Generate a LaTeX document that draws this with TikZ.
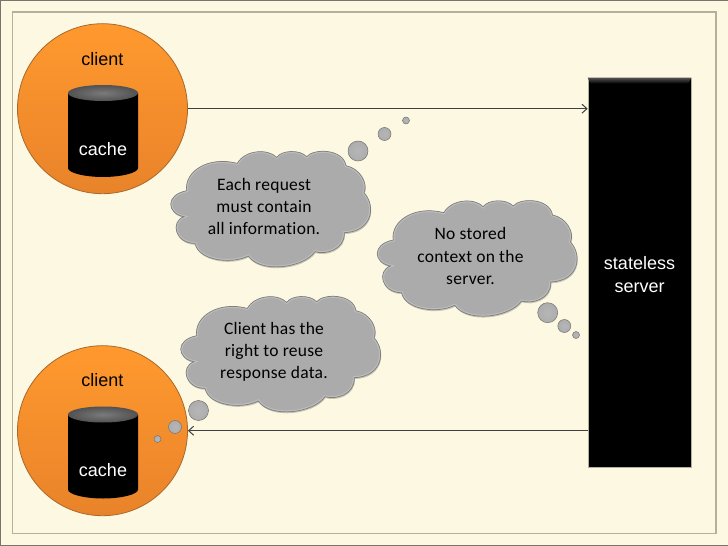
\documentclass[tikz,border=0pt]{standalone}
\usepackage{fontspec}
\setmainfont{Liberation Sans}
\newfontfamily\cloudfont[LetterSpace=1.5, Ligatures=NoCommon]{Carlito}
\usetikzlibrary{arrows.meta, shadows, calc}
\definecolor{paper}{HTML}{FDF8E1}
\definecolor{frameline}{HTML}{B3B19C}
\definecolor{outerline}{HTML}{77766A}
\definecolor{ballrim}{HTML}{A9682B}
\definecolor{ballup}{HTML}{FF992E}
\definecolor{balldown}{HTML}{E9832A}
\definecolor{cloudfill}{HTML}{ABABAB}
\definecolor{cloudedge}{HTML}{7E7E7E}
\definecolor{cloudglow}{HTML}{BDBDBD}
\definecolor{bubblecore}{HTML}{B6B6B6}
\pgfdeclareradialshading{bubbleshade}{\pgfpoint{0bp}{0bp}}{%
	color(0bp)=(bubblecore); color(30bp)=(cloudfill); color(40bp)=(cloudfill); color(50bp)=(cloudedge)}
\tikzset{link/.style = {-{Straight Barb[length=5bp,width=9bp]}, line width=1bp, draw=black!75}}
\tikzset{ball/.style = {
	circle, minimum size=170bp, inner sep=0pt,
	top color=ballup, bottom color=balldown,
	draw=ballrim, line width=0.8bp
	}}
\tikzset{serverbox/.style = {
	rectangle, minimum width=103bp, minimum height=389bp, inner sep=0pt,
	fill=black, draw=frameline, line width=0.6bp,
	drop shadow={shadow xshift=1bp, shadow yshift=-1.2bp, opacity=0.6, fill=black}
	}}
\tikzset{bubble/.style = {
	circle, minimum size=#1, inner sep=0pt,
	shading=bubbleshade, draw=black!55, line width=0.5bp
	}}
\tikzset{darktext/.style = {font=\fontsize{18bp}{23bp}\selectfont, text=black, align=center}}
\tikzset{lighttext/.style = {font=\fontsize{18bp}{23bp}\selectfont, text=white, align=center}}
\tikzset{cloudtext/.style = {font=\cloudfont\fontsize{17.5bp}{22.2bp}\selectfont, text=black, align=center}}
\newcommand{\cloudoutline}{(15.7,40) .. controls (13,21) and (37,5) .. (66.3,12.7)
	.. controls (74,-1) and (97,-2.3) .. (105.7,6.7)
	.. controls (110.7,-0.7) and (129,-1.3) .. (135.7,6)
	.. controls (142.3,-2.3) and (172,-2.3) .. (175,15)
	.. controls (189,17.7) and (197.3,32.7) .. (193,42)
	.. controls (205.7,56) and (200.7,81) .. (173.3,82)
	.. controls (174,99.3) and (154,104.3) .. (144,101)
	.. controls (132.3,117.7) and (89,122.7) .. (77.3,105.3)
	.. controls (59,114.3) and (27.3,109.3) .. (24,92.7)
	.. controls (4,92.7) and (-1,71) .. (13,66)
	.. controls (-4.3,62.7) and (-6,44.3) .. (15.7,40) -- cycle}

\begin{document}
\begin{tikzpicture}[x=1bp, y=-1bp]

	% Slide background
	\useasboundingbox (0,0) rectangle (728,546);
	\fill [paper] (0,0) rectangle (728,546);
	\draw [outerline, line width=1.2bp] (0.6,546) -- (0.6,0.6) -- (728,0.6);
	\draw [outerline, line width=1.2bp] (0,545.4) -- (728,545.4);
	\draw [frameline, line width=1.5bp] (12.5,12.2) rectangle (716,533.5);

	% Clients
	\foreach \name/\c/\y in {clienta/108.7/108, clientb/430.7/429.5}
	{
		\node [ball] (\name) at (102.5,\c) {};
		\fill [black] (68,\y-15) -- (68,\y+60) .. controls (68,\y+65) and (85,\y+69) .. (103,\y+69)
			.. controls (121,\y+69) and (138,\y+65) .. (138,\y+60) -- (138,\y-15) -- cycle;
		\shade [inner color=black!52, outer color=black!68] (103,\y-15) ellipse [x radius=35, y radius=8];
		\node [darktext] (\name label) at (102.5,\y-49) {client};
		\node [lighttext] (\name cache) at (103,\y+41) {cache};
	}

	% Server
	\node [serverbox] (server) at (639.5,272.5) {};
	\shade [top color=black!68, bottom color=black] (server.north west) -- (server.north east) -- ++(-3,6) -- ($(server.north west)+(3,6)$) -- cycle;
	\node [lighttext] (serverlabel) at (639.5,274.5) {stateless\\server};

	% Requests and responses
	\draw [link] (clienta.east) -- (clienta.east -| server.west);
	\draw [link] (clientb.east -| server.west) -- (clientb.east);

	% Thought clouds
	\foreach \name/\x/\y/\words in {%
		request/171/150.7/{Each request\\must contain\\all information.},
		context/377.5/200/{No stored\\context on the\\server.},
		reuse/181/295.7/{Client has the\\right to reuse\\response data.}}
	{
		\begin{scope}[shift={(\x,\y)}]
		\fill [black, opacity=0.2] [shift={(0.6,1.4)}] \cloudoutline;
		\fill [cloudfill] \cloudoutline;
		\begin{scope}
		\clip \cloudoutline;
		\draw [cloudglow, line width=3bp] \cloudoutline;
		\end{scope}
		\draw [cloudedge, line width=0.7bp] \cloudoutline;
		\node [cloudtext] (\name) at (93,56) {\words};
		\end{scope}
	}

	% Bubbles trailing off the clouds
	\foreach \name/\x/\y/\size in {%
		requesta/358/151/20bp, requestb/384.5/134/13bp, requestc/406/120.5/7bp,
		contexta/547.7/312.7/20bp, contextb/564.3/326/13bp, contextc/576/335/7bp,
		reusea/198.5/410.5/20bp, reuseb/175/427/13bp, reusec/157.5/439/7bp}
	{
		\node [bubble=\size] (\name) at (\x,\y) {};
	}

\end{tikzpicture}
\end{document}
